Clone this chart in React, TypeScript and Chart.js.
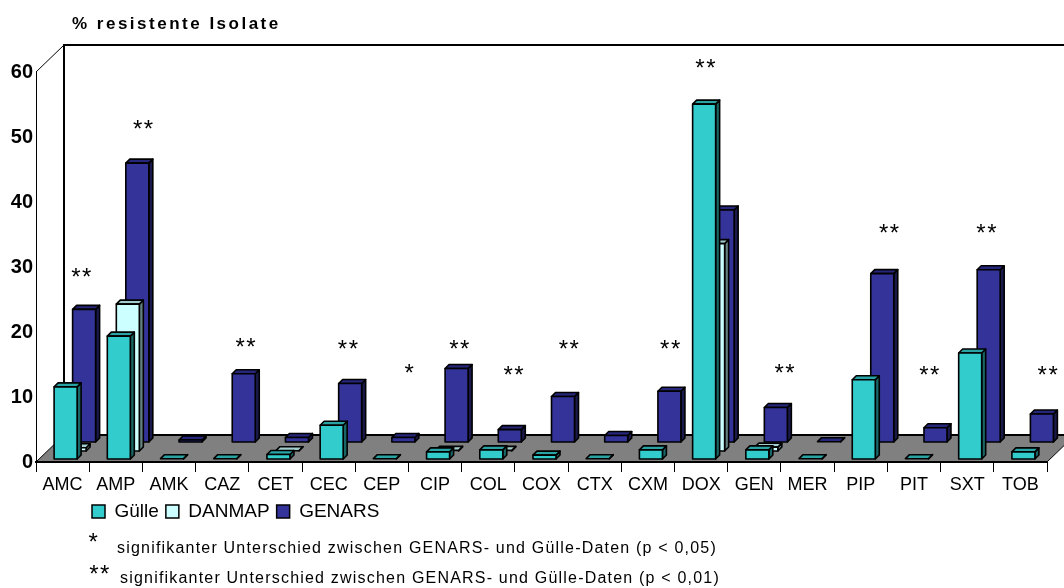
import React, { useEffect, useRef } from "react";
import { Chart, BarController, registerables } from "chart.js";

Chart.register(...registerables);

const categories = ["AMC","AMP","AMK","CAZ","CET","CEC","CEP","CIP","COL","COX","CTX","CXM","DOX","GEN","MER","PIP","PIT","SXT","TOB"];
const guelle = [11.1,18.9,0.05,0.05,0.7,5.2,0.05,1.1,1.4,0.6,0.05,1.4,54.6,1.4,0.05,12.2,0.05,16.3,1.1];
const danmap = [0.5,22.6,null,null,0.05,null,null,0.1,0.1,null,null,null,31.9,0.6,null,null,null,null,null];
const genars = [20.4,42.9,0.3,10.5,0.7,9.0,0.7,11.3,1.9,7.0,1.0,7.8,35.7,5.3,0.05,25.9,2.2,26.5,4.3];

const starCats = ["AMC","AMP","CAZ","CEC","CEP","CIP","COL","COX","CXM","DOX","GEN","PIP","PIT","SXT","TOB"];
const starText = ["**","**","**","**","*","**","**","**","**","**","**","**","**","**","**"];
const starValues = [28.6,51.4,17.8,17.5,13.8,17.5,13.6,17.5,17.5,60.7,13.9,35.4,13.5,35.4,13.6];
const starShift = [19.5,28,24,20,28,25,26,28,23,5,31,29,16,20,28];

const titleText = "% resistente Isolate";
const note1Star = "*";
const note2Star = "**";
const note1Text = "signifikanter Unterschied zwischen GENARS- und Gülle-Daten (p < 0,05)";
const note2Text = "signifikanter Unterschied zwischen GENARS- und Gülle-Daten (p < 0,01)";

const FONT = '"Liberation Sans", Arial, sans-serif';
const DEPTH_X = 28;
const DEPTH_Y = 27;
const BAR_DX = 4;
const BAR_DY = 4;

class Bar3DController extends BarController {
  static id = "bar3d";
  static defaults = BarController.defaults;
  static overrides = BarController.overrides;
  draw() {
    const ctx = this.chart.ctx;
    const ds: any = this.getDataset();
    const meta = this._cachedMeta;
    const off = ds.rowOffset;
    ctx.save();
    ctx.lineJoin = "round";
    ctx.strokeStyle = "#000";
    ctx.lineWidth = 1.6;
    const poly = (pts: number[][], fill: string) => {
      ctx.beginPath();
      pts.forEach((p, i) => (i ? ctx.lineTo(p[0], p[1]) : ctx.moveTo(p[0], p[1])));
      ctx.closePath();
      ctx.fillStyle = fill;
      ctx.fill();
      ctx.stroke();
    };
    meta.data.forEach((el: any, i: number) => {
      if (ds.data[i] == null) return;
      const l = el.x - el.width / 2 + off.x;
      const r = el.x + el.width / 2 + off.x;
      const t = el.y - off.y;
      const b = el.base - off.y;
      poly([[r, t], [r + BAR_DX, t - BAR_DY], [r + BAR_DX, b - BAR_DY], [r, b]], ds.sideColor);
      poly([[l, t], [l + BAR_DX, t - BAR_DY], [r + BAR_DX, t - BAR_DY], [r, t]], ds.topColor);
      if (b - t > 0.8) poly([[l, t], [r, t], [r, b], [l, b]], ds.backgroundColor);
    });
    ctx.restore();
  }
}
Chart.register(Bar3DController);

const roomPlugin = {
  id: "room",
  afterLayout(chart: any) {
    chart.legend.left = 85;
  },
  beforeDraw(chart: any) {
    const ctx = chart.ctx;
    const { left, right, top, bottom } = chart.chartArea;
    const W = chart.width;
    ctx.save();
    ctx.fillStyle = "#808080";
    ctx.beginPath();
    ctx.moveTo(left, bottom);
    ctx.lineTo(left + DEPTH_X, bottom - DEPTH_Y);
    ctx.lineTo(right + DEPTH_X, bottom - DEPTH_Y);
    ctx.lineTo(right, bottom);
    ctx.closePath();
    ctx.fill();
    ctx.strokeStyle = "#000";
    ctx.lineWidth = 1;
    ctx.beginPath();
    ctx.moveTo(left, top);
    ctx.lineTo(left + DEPTH_X, top - DEPTH_Y);
    ctx.moveTo(left, bottom);
    ctx.lineTo(left + DEPTH_X, bottom - DEPTH_Y);
    ctx.moveTo(right, bottom);
    ctx.lineTo(right + DEPTH_X, bottom - DEPTH_Y);
    ctx.stroke();
    ctx.lineWidth = 2;
    ctx.beginPath();
    ctx.moveTo(left + DEPTH_X, bottom - DEPTH_Y);
    ctx.lineTo(left + DEPTH_X, top - DEPTH_Y);
    ctx.lineTo(W, top - DEPTH_Y);
    ctx.moveTo(left + DEPTH_X, bottom - DEPTH_Y);
    ctx.lineTo(W, bottom - DEPTH_Y);
    ctx.stroke();
    ctx.restore();
  },
  afterDraw(chart: any) {
    const ctx = chart.ctx;
    const xs = chart.scales.x;
    const ys = chart.scales.y;
    ctx.save();
    ctx.fillStyle = "#000";
    ctx.textBaseline = "alphabetic";
    const star = (s: string, cx: number, cy: number) => {
      ctx.font = `24px ${FONT}`;
      (ctx as any).letterSpacing = "1.5px";
      ctx.textAlign = "center";
      ctx.fillText(s, cx, cy + 9);
    };
    starCats.forEach((c, i) => {
      star(starText[i], xs.getPixelForValue(categories.indexOf(c)) + starShift[i], ys.getPixelForValue(starValues[i]));
    });
    star(note1Star, 94, 541);
    star(note2Star, 100, 573);
    ctx.textAlign = "left";
    ctx.font = `bold 17px ${FONT}`;
    (ctx as any).letterSpacing = "2.5px";
    ctx.fillText(titleText, 72, 29);
    ctx.font = `16px ${FONT}`;
    (ctx as any).letterSpacing = "1.2px";
    ctx.fillText(note1Text, 117, 553);
    ctx.fillText(note2Text, 120, 583);
    ctx.restore();
  },
};

export default function App() {
  const ref = useRef<HTMLCanvasElement>(null);
  useEffect(() => {
    const chart = new Chart(ref.current as any, {
      type: "bar3d" as any,
      data: {
        labels: categories,
        datasets: [
          { label: "Gülle", data: guelle, clip: false, backgroundColor: "#33cccc", borderColor: "#000", borderWidth: 1.5, topColor: "#29a3a3", sideColor: "#196666", rowOffset: { x: 3, y: 3 } },
          { label: "DANMAP", data: danmap, clip: false, backgroundColor: "#ccffff", borderColor: "#000", borderWidth: 1.5, topColor: "#a3cccc", sideColor: "#668080", rowOffset: { x: 12, y: 11 } },
          { label: "GENARS", data: genars, clip: false, backgroundColor: "#333399", borderColor: "#000", borderWidth: 1.5, topColor: "#26267a", sideColor: "#1a1a4d", rowOffset: { x: 21.5, y: 20 } },
        ] as any,
      },
      options: {
        responsive: false,
        animation: false,
        grouped: false,
        barThickness: 23,
        layout: { padding: { top: 72, right: 17, bottom: 57, left: 0 } },
        plugins: {
          title: { display: false },
          tooltip: { enabled: false },
          legend: {
            display: true,
            position: "bottom",
            align: "start",
            labels: { boxWidth: 13, boxHeight: 13, padding: 7, color: "#000", font: { family: FONT, size: 19 } },
          },
        },
        scales: {
          x: {
            type: "category",
            offset: true,
            afterFit: (s: any) => { s.height = 33; },
            grid: { display: true, offset: true, drawOnChartArea: false, drawTicks: true, tickLength: 10, color: "#000", lineWidth: 1 },
            border: { display: true, color: "#000", width: 2 },
            ticks: { color: "#000", autoSkip: false, maxRotation: 0, padding: 2, font: { family: FONT, size: 18 } },
          },
          y: {
            min: 0,
            max: 60,
            afterFit: (s: any) => { s.width = 36; },
            grid: { display: false, drawTicks: false },
            border: { display: true, color: "#000", width: 1 },
            ticks: { stepSize: 10, color: "#000", padding: 3, font: { family: FONT, size: 20, weight: "bold" } },
          },
        },
      } as any,
      plugins: [roomPlugin],
    });
    return () => chart.destroy();
  }, []);
  return (
    <div style={{ position: "absolute", left: 0, top: 0 }}>
      <canvas ref={ref} width={1064} height={588} style={{ display: "block" }} />
    </div>
  );
}
